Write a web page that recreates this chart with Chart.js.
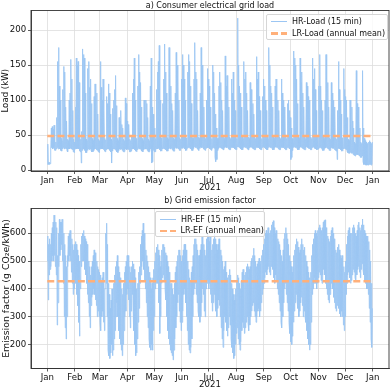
<!DOCTYPE html>
<html>
<head>
<meta charset="utf-8">
<script src="https://cdn.jsdelivr.net/npm/chart.js@4.4.1/dist/chart.umd.min.js"></script>
<style>
  body { margin: 0; background: #fff; width: 392px; height: 390px; position: relative; overflow: hidden; font-family: "DejaVu Sans", sans-serif; }
  canvas { position: absolute; left: 0; }
  .legend { position: absolute; box-sizing: border-box; border: 1px solid #d6d6d6; border-radius: 2px;
            background: rgba(255,255,255,0.8); font-size: 8px; color: #111; padding-top: 1.5px; }
  .legend .row { height: 11.6px; display: flex; align-items: center; white-space: nowrap; }
  .legend .ln { display: inline-block; width: 16.5px; margin-left: 3.5px; margin-right: 5px; }
</style>
</head>
<body>
<canvas id="loadChart" width="392" height="195" style="top:0"></canvas>
<canvas id="efChart" width="392" height="195" style="top:195px"></canvas>
<div id="loadLegend" class="legend" style="left:266px; top:13.5px; width:122px; height:26px"></div>
<div id="efLegend" class="legend" style="left:155px; top:211px; width:110px; height:26px"></div>
<script>
// x axis: day of year 2021 (0 = 1 Jan)
const monthStarts = [0, 31, 59, 90, 120, 151, 181, 212, 243, 273, 304, 334, 365];
const monthLabels = ['Jan', 'Feb', 'Mar', 'Apr', 'May', 'Jun', 'Jul', 'Aug', 'Sep', 'Oct', 'Nov', 'Dec', 'Jan'];
const yearLabel = '2021';

const loadTicks = [0, 50, 100, 150, 200];
const efTicks = [200, 300, 400, 500, 600];

// annual means
const loadMean = 48.6;
const efMean = 427;

// grid load, daily minimum (kW), one row per month
const loadBase = [
  8,8,8,9,30,32,30,32,28,28,30,32,30,32,30,28,27,30,32,30,31,30,27,26,30,30,31,30,29,26,25,
  30,31,30,31,30,27,26,10,28,30,30,28,25,25,28,30,29,30,28,26,26,28,30,30,29,28,26,25,
  30,31,30,30,29,27,26,29,30,30,30,28,26,10,27,30,30,29,28,26,25,28,30,29,30,28,26,26,28,30,29,
  30,29,26,26,27,30,31,30,29,27,26,29,31,30,30,29,27,26,29,30,30,30,28,26,26,28,30,10,12,28,
  26,26,30,31,30,31,29,27,27,30,31,30,31,29,27,27,30,31,30,31,29,27,27,30,32,31,31,30,28,28,31,
  32,31,32,30,28,28,31,32,32,31,30,28,28,31,33,32,32,30,29,28,31,33,32,32,30,29,28,31,32,32,
  32,30,29,28,31,32,31,18,12,15,28,31,32,32,31,30,29,29,32,33,32,32,30,29,29,32,33,32,32,30,29,
  29,33,33,32,32,30,29,29,32,33,32,32,30,29,29,32,33,32,31,30,29,29,32,33,32,32,30,29,29,32,33,
  32,32,30,29,29,32,33,32,32,30,29,29,32,33,32,32,30,29,29,32,33,32,32,30,29,29,32,32,31,30,
  15,18,28,32,33,32,32,30,29,29,32,33,32,31,30,29,29,32,33,32,31,30,29,29,32,33,32,31,30,29,29,
  30,32,32,31,30,28,28,31,32,32,31,30,28,28,31,32,31,31,29,28,27,15,31,31,30,29,27,27,30,31,
  30,29,27,25,24,24,25,24,24,22,21,20,22,22,22,21,20,18,18,20,12,8,8,7,7,7,7,8,8,7,8
];

// grid load, daily peak (kW)
const loadPeak = [
  37,11,11,12,60,62,58,64,42,40,75,155,175,120,100,45,42,115,148,140,90,70,44,42,100,110,158,130,85,44,40,
  90,160,150,155,125,48,44,55,173,165,160,110,44,42,145,155,118,130,95,45,42,105,123,98,110,80,44,42,
  155,118,100,130,85,45,43,105,95,123,110,80,44,42,88,100,115,135,92,45,42,75,70,85,65,60,44,42,103,95,70,
  65,60,44,42,48,110,130,160,100,45,43,120,165,140,125,90,45,42,100,85,100,95,75,44,42,120,160,90,80,70,
  60,45,115,140,155,178,100,46,44,95,130,180,140,110,46,44,175,150,120,95,85,46,44,110,168,150,130,100,46,44,130,
  165,150,130,100,46,44,140,165,155,120,95,46,45,130,182,140,130,85,47,45,110,175,150,120,90,47,45,100,145,130,
  120,90,47,45,150,140,110,80,60,45,45,120,140,125,100,85,47,45,163,120,135,120,90,47,45,130,110,140,100,85,47,
  45,217,150,120,110,90,47,45,155,130,140,110,85,47,45,125,115,100,95,80,47,45,162,130,140,105,85,47,45,105,130,
  120,100,85,47,45,175,150,120,110,90,47,45,120,130,105,100,85,47,45,130,110,100,90,80,47,45,95,100,85,75,
  60,45,45,170,160,150,130,95,47,45,160,125,140,110,90,47,45,125,120,105,100,80,47,45,160,130,145,115,85,47,45,
  120,165,120,100,85,47,45,100,165,130,125,90,46,44,125,110,100,90,80,46,44,85,155,115,100,80,46,44,145,115,
  105,100,75,44,42,100,75,90,70,60,40,38,142,95,90,70,60,40,38,142,60,45,42,40,38,38,40,42,40,38,40
];

// grid emission factor, daily low (g CO2e/kWh)
const efLow = [
  500,360,450,470,480,500,520,500,520,480,450,270,350,480,520,540,560,500,420,300,260,220,300,480,500,520,500,460,420,380,400,
  450,420,380,340,280,230,400,480,500,520,500,470,450,420,380,350,300,260,340,370,380,400,380,360,340,300,320,300,
  280,250,300,320,280,250,400,420,300,180,160,150,170,200,160,180,220,250,300,350,300,250,220,200,180,160,200,250,300,320,380,
  400,360,300,260,320,380,350,250,200,160,170,220,280,330,420,450,480,500,470,430,400,350,300,260,220,190,180,200,180,250,
  300,400,420,440,420,350,240,300,420,440,450,430,400,360,300,250,220,200,180,170,160,145,180,220,260,300,350,380,320,280,250,
  280,320,380,400,350,300,250,200,180,170,190,220,300,380,400,420,380,350,320,300,280,300,350,400,380,320,300,400,420,430,
  400,420,380,350,320,350,380,360,320,300,330,360,340,300,260,220,190,250,300,280,250,230,260,300,270,220,190,170,150,160,200,
  240,260,220,200,180,210,250,280,260,240,260,280,300,280,250,270,300,320,340,350,320,300,280,300,320,330,300,320,350,380,400,
  420,440,460,450,470,480,460,450,480,500,470,440,420,450,430,400,380,350,320,280,260,300,350,400,420,380,350,320,280,240,
  210,200,230,280,320,350,380,360,330,300,320,350,370,340,300,320,300,280,250,220,200,180,200,280,380,400,420,440,420,400,420,
  440,460,450,430,420,450,470,450,420,400,380,360,350,380,400,420,400,370,350,330,320,340,350,330,310,300,320,300,270,250,
  300,380,420,450,460,440,420,430,450,470,460,440,430,450,470,480,460,440,470,490,470,450,430,420,400,400,380,330,280,220,190
];

// grid emission factor, daily high (g CO2e/kWh)
const efHigh = [
  590,560,580,560,600,620,640,665,650,640,620,520,600,650,640,640,650,620,600,560,520,480,520,590,600,610,590,580,560,540,560,
  570,560,540,520,500,460,560,590,600,610,590,580,570,560,520,500,480,450,480,500,520,540,530,510,500,480,470,460,
  450,430,440,460,420,400,600,636,560,420,380,330,360,400,380,420,450,480,500,520,480,460,440,420,400,380,420,460,480,500,520,
  520,500,480,460,480,500,490,470,440,400,380,420,460,480,560,590,610,636,600,570,540,520,500,480,460,440,400,420,440,470,
  500,530,550,560,540,520,480,500,540,560,560,550,530,520,500,480,460,440,420,420,400,380,420,460,480,500,520,540,540,520,500,
  520,540,560,560,540,520,500,470,440,430,460,480,520,560,580,580,560,540,520,520,540,560,590,580,560,540,520,580,600,590,
  570,590,560,540,560,580,600,580,560,540,560,580,560,540,520,500,470,480,500,460,440,420,450,470,450,420,400,380,360,380,400,
  430,450,440,420,400,430,460,470,450,450,460,480,490,480,470,480,500,510,520,546,520,500,480,490,500,510,490,500,520,540,560,
  580,600,610,600,620,620,600,610,630,640,645,620,600,610,600,580,570,560,540,520,500,540,580,600,620,600,580,560,520,500,
  480,460,480,520,540,560,580,570,550,530,540,560,580,560,540,550,520,500,480,460,440,420,460,520,560,580,600,610,600,590,610,
  620,630,620,610,620,640,645,648,620,600,590,580,570,590,610,620,600,580,560,540,530,550,560,540,520,510,520,500,480,460,
  500,560,590,610,620,600,590,600,620,630,620,600,590,610,630,640,620,610,630,651,630,610,600,590,580,590,570,540,500,420,330
];

const FONT = { family: 'DejaVu Sans', size: 8, weight: 'normal' };
const TICK_FONT = { family: 'DejaVu Sans', size: 8.6, weight: 'normal' };
const TEXT = '#111';
const hrColor = '#9cc6f3';
const lrColor = '#ffb07a';

// daily low and high as a zig-zag trace
function dailyTrace(low, high) {
  const pts = [];
  low.forEach((v, d) => {
    pts.push({ x: d + 0.15, y: v });
    pts.push({ x: d + 0.6, y: high[d] });
  });
  return pts;
}

// axes box (all four spines)
const frame = {
  id: 'frame',
  afterDatasetsDraw(chart) {
    const { ctx, chartArea: a } = chart;
    ctx.save();
    ctx.strokeStyle = '#333';
    ctx.lineWidth = 0.9;
    ctx.strokeRect(a.left, a.top, a.right - a.left, a.bottom - a.top);
    ctx.restore();
  }
};

function makeChart(id, c) {
  return new Chart(document.getElementById(id), {
    type: 'line',
    data: {
      datasets: [
        { label: c.hrLabel, data: dailyTrace(c.low, c.high), borderColor: hrColor, borderWidth: 0.9,
          pointRadius: 0, tension: 0, order: 1 },
        { label: c.lrLabel, data: [{ x: 0, y: c.mean }, { x: 365, y: c.mean }], borderColor: lrColor,
          borderWidth: 2.5, borderDash: [7, 3.2], pointRadius: 0, order: 0 }
      ]
    },
    options: {
      responsive: false,
      animation: false,
      events: [],
      layout: { padding: { left: 0, right: 3, top: 0, bottom: c.padBottom } },
      plugins: {
        legend: { display: false },
        tooltip: { enabled: false },
        title: { display: true, fullSize: false, text: c.title, color: TEXT, font: FONT, padding: c.titlePad }
      },
      scales: {
        x: {
          type: 'linear', min: -18.25, max: 383.25,
          afterBuildTicks: s => { s.ticks = monthStarts.map(v => ({ value: v })); },
          afterFit: s => { s.height = 21.5; },
          ticks: { autoSkip: false, maxRotation: 0, padding: 1.2, color: TEXT, font: TICK_FONT,
                   callback: (v, i) => monthLabels[i] },
          grid: { color: '#dddddd', lineWidth: 0.8, tickLength: 3, tickColor: '#333' },
          border: { display: true, color: '#333', width: 0.9 },
          title: { display: true, text: yearLabel, color: TEXT, font: TICK_FONT, padding: { top: 0, bottom: 0 } }
        },
        y: {
          min: c.yMin, max: c.yMax,
          afterBuildTicks: s => { s.ticks = c.ticks.map(v => ({ value: v })); },
          afterFit: s => { s.width = 31; },
          ticks: { padding: 1.8, color: TEXT, font: TICK_FONT },
          grid: { color: '#dddddd', lineWidth: 0.8, tickLength: 3, tickColor: '#333' },
          border: { display: true, color: '#333', width: 0.9 },
          title: { display: true, text: c.yTitle, color: TEXT, font: c.yTitleFont,
                   padding: { top: c.yTitlePad, bottom: 0 } }
        }
      }
    },
    plugins: [frame]
  });
}

function buildLegend(el, chart) {
  chart.data.datasets.forEach((ds, i) => {
    const row = document.createElement('div');
    row.className = 'row';
    const ln = document.createElement('span');
    ln.className = 'ln';
    if (i === 0) {
      ln.style.height = '1.3px';
      ln.style.background = ds.borderColor;
    } else {
      ln.style.height = '2.5px';
      ln.style.background = 'repeating-linear-gradient(to right,' + ds.borderColor + ' 0 7px, transparent 7px 10.2px)';
    }
    const tx = document.createElement('span');
    tx.textContent = ds.label;
    row.appendChild(ln);
    row.appendChild(tx);
    el.appendChild(row);
  });
}

const loadChart = makeChart('loadChart', {
  title: 'a) Consumer electrical grid load',
  yTitle: 'Load (kW)', yTitleFont: { family: 'DejaVu Sans', size: 8.6 }, yTitlePad: 1.1,
  hrLabel: 'HR-Load (15 min)', lrLabel: 'LR-Load (annual mean)',
  low: loadBase, high: loadPeak, mean: loadMean,
  ticks: loadTicks, yMin: -1.4, yMax: 227.9,
  titlePad: { top: 0.8, bottom: 0.1 }, padBottom: 2.5
});

const efChart = makeChart('efChart', {
  title: 'b) Grid emission factor',
  yTitle: 'Emission factor (g CO\u2082e/kWh)', yTitleFont: { family: 'DejaVu Sans', size: 9.4 }, yTitlePad: 0.6,
  hrLabel: 'HR-EF (15 min)', lrLabel: 'LR-EF (annual mean)',
  low: efLow, high: efHigh, mean: efMean,
  ticks: efTicks, yMin: 114, yMax: 688.8,
  titlePad: { top: 0.8, bottom: 3.1 }, padBottom: 0
});

buildLegend(document.getElementById('loadLegend'), loadChart);
buildLegend(document.getElementById('efLegend'), efChart);
</script>
</body>
</html>
